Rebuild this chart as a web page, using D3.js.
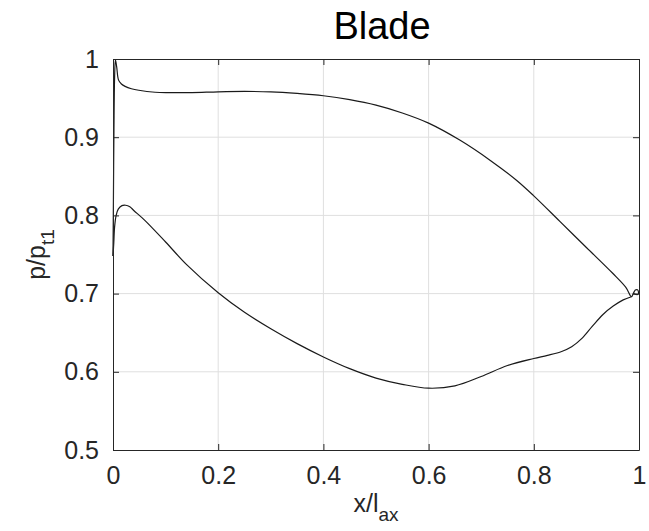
<!DOCTYPE html>
<html>
<head>
<meta charset="utf-8">
<script src="https://cdn.jsdelivr.net/npm/d3@7"></script>
<style>
  body { margin: 0; background: #fff; }
  text { font-family: "Liberation Sans", Arial, sans-serif; fill: #262626; }
</style>
</head>
<body>
<div id="chart-area"></div>
<script>
// pressure side (upper curve), x/l_ax and p/p_t1
let pressureX = [0, 0.0008, 0.0018, 0.003, 0.0046, 0.007, 0.0106, 0.016, 0.023, 0.035, 0.049, 0.08, 0.106, 0.15, 0.2, 0.25, 0.3, 0.35, 0.4, 0.45, 0.5, 0.55, 0.6, 0.66, 0.718, 0.767, 0.8, 0.85, 0.9, 0.95, 0.975, 0.9856, 0.989, 0.993, 0.997, 0.999, 0.998, 0.994, 0.99];
let pressureP = [0.748, 0.82, 0.91, 0.975, 0.999, 0.99, 0.973, 0.968, 0.965, 0.962, 0.960, 0.9575, 0.957, 0.957, 0.958, 0.9585, 0.958, 0.956, 0.953, 0.948, 0.941, 0.931, 0.918, 0.896, 0.870, 0.845, 0.825, 0.792, 0.759, 0.726, 0.708, 0.696, 0.700, 0.7045, 0.705, 0.702, 0.699, 0.699, 0.700];

// suction side (lower curve)
let suctionX = [0, 0.0015, 0.003, 0.006, 0.01, 0.017, 0.024, 0.032, 0.04, 0.06, 0.1, 0.14, 0.2, 0.25, 0.3, 0.35, 0.4, 0.45, 0.5, 0.55, 0.6, 0.65, 0.7, 0.75, 0.8, 0.826, 0.853, 0.872, 0.892, 0.911, 0.931, 0.951, 0.97, 0.9856];
let suctionP = [0.748, 0.765, 0.785, 0.8, 0.808, 0.8125, 0.813, 0.811, 0.806, 0.794, 0.766, 0.737, 0.701, 0.676, 0.655, 0.636, 0.619, 0.604, 0.592, 0.584, 0.579, 0.582, 0.594, 0.608, 0.617, 0.621, 0.626, 0.632, 0.643, 0.658, 0.673, 0.684, 0.692, 0.696];

let xTicks = [0, 0.2, 0.4, 0.6, 0.8, 1];
let yTicks = [0.5, 0.6, 0.7, 0.8, 0.9, 1];

let margin = {top: 59, right: 10, bottom: 81, left: 113};
let width = 649 - margin.left - margin.right,
    height = 531 - margin.top - margin.bottom;

let svg = d3.select("#chart-area").append("svg")
    .attr("width", 649)
    .attr("height", 531);

let g = svg.append("g")
    .attr("transform", "translate(" + margin.left + "," + margin.top + ")");

let xScale = d3.scaleLinear().domain([0, 1]).range([0, width]);
let yScale = d3.scaleLinear().domain([0.5, 1]).range([height, 0]);

// grid
g.append("g").selectAll("line").data(xTicks.slice(1, -1)).enter().append("line")
    .attr("x1", d => xScale(d)).attr("x2", d => xScale(d))
    .attr("y1", 0).attr("y2", height)
    .attr("stroke", "#dfdfdf").attr("stroke-width", 1);
g.append("g").selectAll("line").data(yTicks.slice(1, -1)).enter().append("line")
    .attr("y1", d => yScale(d)).attr("y2", d => yScale(d))
    .attr("x1", 0).attr("x2", width)
    .attr("stroke", "#dfdfdf").attr("stroke-width", 1);

// curves
let line = d3.line()
    .x(d => xScale(d[0]))
    .y(d => yScale(d[1]))
    .curve(d3.curveCatmullRom.alpha(0.5));

let pressure = pressureX.map((x, i) => [x, pressureP[i]]);
let suction = suctionX.map((x, i) => [x, suctionP[i]]);

[pressure, suction].forEach(s => {
    g.append("path")
        .datum(s)
        .attr("d", line)
        .attr("fill", "none")
        .attr("stroke", "#1a1a1a")
        .attr("stroke-width", 1.2);
});

// axes (ticks inward, box all round)
let xAxis = d3.axisBottom(xScale).tickValues(xTicks).tickFormat(d3.format("~g"))
    .tickSizeInner(-6).tickSizeOuter(0).tickPadding(16);
let yAxis = d3.axisLeft(yScale).tickValues(yTicks).tickFormat(d3.format("~g"))
    .tickSizeInner(-6).tickSizeOuter(0).tickPadding(14);
let xTop = d3.axisTop(xScale).tickValues(xTicks).tickFormat("").tickSizeInner(-6).tickSizeOuter(0);
let yRight = d3.axisRight(yScale).tickValues(yTicks).tickFormat("").tickSizeInner(-6).tickSizeOuter(0);

g.append("g").attr("class", "axis x-axis")
    .attr("transform", "translate(0," + height + ")").call(xAxis);
g.append("g").attr("class", "axis y-axis").call(yAxis);
g.append("g").call(xTop);
g.append("g").attr("transform", "translate(" + width + ",0)").call(yRight);

g.selectAll(".domain").attr("stroke", "#262626");
g.selectAll(".tick line").attr("stroke", "#262626");
g.selectAll(".tick text")
    .attr("font-size", 25)
    .attr("font-family", "Liberation Sans, Arial, sans-serif")
    .attr("fill", "#262626");

// title
svg.append("text")
    .attr("x", margin.left + width / 2 + 6)
    .attr("y", 39)
    .attr("text-anchor", "middle")
    .attr("font-size", 38)
    .style("fill", "#000")
    .text("Blade");

// x label
let xl = svg.append("text")
    .attr("x", margin.left + width / 2)
    .attr("y", 512)
    .attr("text-anchor", "middle")
    .attr("font-size", 25);
xl.append("tspan").text("x/l");
xl.append("tspan").attr("dy", 9).attr("font-size", 19).text("ax");

// y label
let yl = svg.append("text")
    .attr("transform", "translate(45," + (margin.top + height / 2) + ") rotate(-90)")
    .attr("text-anchor", "middle")
    .attr("font-size", 25);
yl.append("tspan").text("p/p");
yl.append("tspan").attr("dy", 9).attr("font-size", 19).text("t1");
</script>
</body>
</html>
